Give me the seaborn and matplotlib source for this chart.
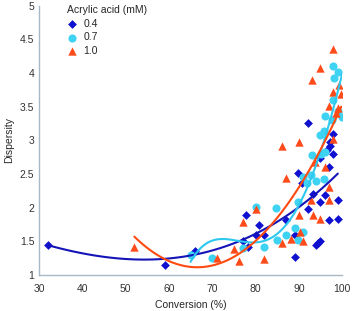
import numpy as np
import pandas as pd
import matplotlib
matplotlib.use("Agg")
import matplotlib.pyplot as plt
import seaborn as sns

# ---- data ----
conv_04 = [32, 59, 66, 77.2, 77.9, 78.2, 80, 80.8, 82, 87, 89, 89.1, 89.8, 90.8, 92, 92,
           93.2, 93.9, 94.5, 95, 95, 96, 97, 97, 97.1, 97.2, 97.9, 98, 99, 99, 95, 96.5]
disp_04 = [1.45, 1.15, 1.36, 1.5, 1.89, 1.42, 1.59, 1.74, 1.59, 1.81, 1.26, 1.59, 2.51, 2.36, 1.98, 3.26,
           2.2, 1.45, 1.48, 1.51, 2.09, 2.18, 1.81, 2.6, 2.92, 2.98, 3.1, 2.8, 2.12, 1.83, 2.73, 2.85]

conv_07 = [65, 70, 77, 80, 82, 84.8, 85, 87, 89.1, 89.8, 91, 89.8, 91, 91.8, 92.9, 93.9, 95.8,
           93, 95.2, 96, 98, 98.1, 99, 97.9, 99, 96, 97.7, 100, 95.8, 95]
disp_07 = [1.3, 1.25, 1.4, 2.01, 1.41, 2.0, 1.52, 1.59, 1.69, 1.52, 1.64, 2.09, 2.46, 2.36, 2.49, 2.39, 2.42,
           2.78, 2.8, 2.82, 4.1, 3.92, 4.02, 3.6, 3.44, 3.36, 3.3, 3.34, 3.14, 3.08]

conv_10 = [52, 71, 75, 76.2, 77, 80, 82, 86, 87, 88.1, 90.1, 90.2, 91, 92.9, 93.2, 94.9, 97, 97,
           96, 93.7, 86, 90, 98, 95, 93, 98, 99.2, 99.8, 97, 99, 98.5, 98]
disp_10 = [1.42, 1.25, 1.38, 1.2, 1.78, 1.98, 1.23, 1.47, 2.44, 1.53, 1.89, 1.64, 1.5, 2.11, 1.89, 1.83, 2.11, 2.31,
           2.61, 2.68, 2.92, 2.98, 4.35, 4.08, 3.89, 3.72, 3.82, 3.68, 3.51, 3.48, 3.4, 3.02]

groups = ["0.4", "0.7", "1.0"]
x_ticks = [30, 40, 50, 60, 70, 80, 90, 100]
y_ticks = [1, 1.5, 2, 2.5, 3, 3.5, 4, 4.5, 5]
y_tick_labels = ["1", "1.5", "2", "2.5", "3", "3.5", "4", "4.5", "5"]

data = {
    "0.4": pd.DataFrame({"conv": conv_04, "disp": disp_04}),
    "0.7": pd.DataFrame({"conv": conv_07, "disp": disp_07}),
    "1.0": pd.DataFrame({"conv": conv_10, "disp": disp_10}),
}

pt_colors = {"0.4": "#1010D0", "0.7": "#3FD3F3", "1.0": "#FF4A1A"}
line_colors = {"0.4": "#1414B8", "0.7": "#2EC8EE", "1.0": "#FF4A10"}
markers = {"0.4": "D", "0.7": "o", "1.0": "^"}
msizes = {"0.4": 20, "0.7": 34, "1.0": 36}
orders = {"0.4": 3, "0.7": 4, "1.0": 2}

sns.set_style("white")
plt.rcParams["font.family"] = ["Liberation Sans", "DejaVu Sans"]

fig = plt.figure(figsize=(3.52, 3.11), dpi=100)
ax = fig.add_axes([0.111, 0.116, 0.861, 0.866])

for g in groups:
    sns.scatterplot(data=data[g], x="conv", y="disp", color=pt_colors[g], marker=markers[g],
                    s=msizes[g], linewidth=0, ax=ax, zorder=3, label=g)

for g in groups:
    sns.regplot(data=data[g], x="conv", y="disp", order=orders[g], ci=None, scatter=False,
                truncate=True, color=line_colors[g], line_kws={"lw": 1.5, "zorder": 4}, ax=ax)

ax.set_xlim(30, 100)
ax.set_ylim(1, 5)
ax.set_xticks(x_ticks)
ax.set_yticks(y_ticks)
ax.set_yticklabels(y_tick_labels)
ax.set_xlabel("Conversion (%)", fontsize=7.5, labelpad=4)
ax.set_ylabel("Dispersity", fontsize=7.5, labelpad=4)
ax.tick_params(axis="both", labelsize=7.5, colors="#333333")
ax.tick_params(axis="x", length=3, width=0.8, color="#A8B8C4", direction="out")
ax.tick_params(axis="y", length=0)
for side in ["top", "right"]:
    ax.spines[side].set_visible(False)
for side in ["left", "bottom"]:
    ax.spines[side].set_color("#A8B8C4")
    ax.spines[side].set_linewidth(1.0)

leg = ax.legend(title="Acrylic acid (mM)", loc="upper left", bbox_to_anchor=(0.07, 1.025),
                frameon=False, fontsize=7.5, title_fontsize=7.5, alignment="left",
                handlelength=1.0, handletextpad=0.6, labelspacing=0.35, borderaxespad=0.2)

fig.savefig("out.png", dpi=100)
